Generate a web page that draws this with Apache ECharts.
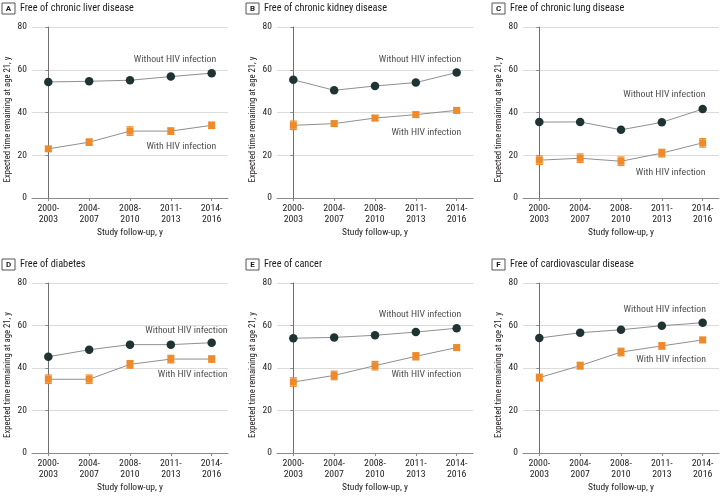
<!DOCTYPE html>
<html><head><meta charset="utf-8">
<script src="https://cdn.jsdelivr.net/npm/echarts@6/dist/echarts.min.js"></script>
<style>html,body{margin:0;padding:0;background:#fff}#c{width:720px;height:497px}</style>
</head><body><div id="c"></div>
<script>
const categories = ['2000-\n2003','2004-\n2007','2008-\n2010','2011-\n2013','2014-\n2016'];
const yTicks = [0,20,40,60,80];
const letters = ['A','B','C','D','E','F'];
const titles = ['Free of chronic liver disease','Free of chronic kidney disease','Free of chronic lung disease','Free of diabetes','Free of cancer','Free of cardiovascular disease'];
const labelWithout = 'Without HIV infection';
const labelWith = 'With HIV infection';

const withoutLiver = [54.3,54.6,55.1,56.8,58.4];
const withLiver    = [23.0,26.1,31.3,31.3,34.0];
const errLiver     = [1.0,1.5,2.0,1.5,1.5];

const withoutKidney = [55.3,50.4,52.4,54.0,58.7];
const withKidney    = [34.0,34.8,37.4,39.0,41.0];
const errKidney     = [2.0,1.2,1.2,1.2,1.2];

const withoutLung = [35.5,35.6,31.9,35.4,41.6];
const withLung    = [17.7,18.6,17.2,21.0,25.8];
const errLung     = [2.0,2.0,2.0,1.8,2.0];

const withoutDiabetes = [45.3,48.6,51.0,51.0,51.9];
const withDiabetes    = [34.7,34.7,41.7,44.2,44.2];
const errDiabetes     = [2.0,2.0,1.8,1.8,1.5];

const withoutCancer = [54.0,54.4,55.4,56.9,58.7];
const withCancer    = [33.4,36.5,41.1,45.5,49.6];
const errCancer     = [2.0,2.0,2.0,1.7,1.2];

const withoutCvd = [54.1,56.6,58.0,59.9,61.3];
const withCvd    = [35.5,41.1,47.5,50.4,53.2];
const errCvd     = [1.6,1.6,1.8,1.5,1.2];

// annotation anchor points [x (category index units), y]
const annWithout = [[4.11,65.0],[4.11,65.0],[4.07,48.2],[4.39,57.4],[4.11,65.1],[4.08,67.3]];
const annWith    = [[4.11,24.3],[4.11,30.8],[4.07,11.9],[4.39,36.9],[4.11,36.9],[4.08,43.8]];

const panels = [
  [withoutLiver, withLiver, errLiver],
  [withoutKidney, withKidney, errKidney],
  [withoutLung, withLung, errLung],
  [withoutDiabetes, withDiabetes, errDiabetes],
  [withoutCancer, withCancer, errCancer],
  [withoutCvd, withCvd, errCvd]
];

const FONT = '"Roboto Condensed","Liberation Sans",sans-serif';
const TXT = '#1e1a1b';
const lefts = [32, 277, 523];
const tops = [27, 283];
const heights = [171, 170];
const titleLefts = [2, 246, 492];
const titleTops = [3, 259];

const grids = [], xAxes = [], yAxes = [], series = [], titleArr = [];
panels.forEach((p, i) => {
  const col = i % 3, row = Math.floor(i / 3);
  grids.push({left: lefts[col], top: tops[row], width: 196, height: heights[row], containLabel: false});
  xAxes.push({
    type: 'value', gridIndex: i, min: -0.4, max: 4.4,
    name: 'Study follow-up, y', nameLocation: 'middle', nameGap: 30,
    nameTextStyle: {fontFamily: FONT, fontSize: 9.5, color: TXT},
    axisLine: {show: true, onZero: false, lineStyle: {color: '#8a8a8a', width: 1}},
    axisTick: {show: true, length: 3, customValues: [0,1,2,3,4], lineStyle: {color: '#8a8a8a'}},
    axisLabel: {customValues: [0,1,2,3,4], formatter: v => categories[Math.round(v)], fontFamily: FONT, fontSize: 9.8, color: TXT, margin: 5, lineHeight: 11},
    splitLine: {show: false}
  });
  yAxes.push({
    type: 'value', gridIndex: i, min: 0, max: 80, interval: 20,
    name: 'Expected time remaining at age 21, y', nameLocation: 'middle', nameGap: 20,
    nameTextStyle: {fontFamily: FONT, fontSize: 8.7, color: TXT, padding: [0, 14, 0, 0]},
    axisLine: {show: true, lineStyle: {color: '#6e6e6e', width: 1}},
    axisTick: {show: true, length: 3, lineStyle: {color: '#8a8a8a'}},
    axisLabel: {fontFamily: FONT, fontSize: 9.5, color: TXT, margin: 5, formatter: v => yTicks.includes(v) ? String(v) : ''},
    splitLine: {show: true, lineStyle: {color: '#dcdcdc', width: 1}}
  });
  titleArr.push({
    left: titleLefts[col], top: titleTops[row], padding: 0,
    text: '{b|' + letters[i] + '}{t|' + titles[i] + '}',
    textStyle: {fontWeight: 'normal', rich: {
      b: {fontFamily: 'Roboto', fontWeight: 'bold', fontSize: 8, color: TXT, borderColor: '#555', borderWidth: 1, padding: [2, 3, 1, 3], width: 7, align: 'center'},
      t: {fontFamily: FONT, fontWeight: 'normal', fontSize: 10.3, color: TXT, padding: [0, 0, 0, 5]}
    }}
  });
  const [wo, wi, er] = p;
  series.push({
    type: 'custom', xAxisIndex: i, yAxisIndex: i, z: 2, silent: true,
    data: wi.map((v, k) => [k, v - er[k], v + er[k]]),
    renderItem: (params, api) => {
      const lo = api.coord([api.value(0), api.value(1)]);
      const hi = api.coord([api.value(0), api.value(2)]);
      const w = 3.5;
      const st = {stroke: '#ee8a2a', lineWidth: 1.2};
      return {type: 'group', children: [
        {type: 'line', shape: {x1: lo[0], y1: lo[1], x2: hi[0], y2: hi[1]}, style: st},
        {type: 'line', shape: {x1: lo[0]-w, y1: lo[1], x2: lo[0]+w, y2: lo[1]}, style: st},
        {type: 'line', shape: {x1: hi[0]-w, y1: hi[1], x2: hi[0]+w, y2: hi[1]}, style: st}
      ]};
    }
  });
  series.push({
    type: 'line', xAxisIndex: i, yAxisIndex: i, z: 3, silent: true,
    data: wo.map((v, k) => [k, v]),
    symbol: 'circle', symbolSize: 8.5,
    lineStyle: {color: '#8f8f8f', width: 1},
    itemStyle: {color: '#1f3332'}
  });
  series.push({
    type: 'line', xAxisIndex: i, yAxisIndex: i, z: 4, silent: true,
    data: wi.map((v, k) => [k, v]),
    symbol: 'rect', symbolSize: 7,
    lineStyle: {color: '#8f8f8f', width: 1},
    itemStyle: {color: '#ee8a2a'}
  });
  series.push({
    type: 'scatter', xAxisIndex: i, yAxisIndex: i, z: 5, silent: true,
    symbolSize: 0,
    data: [
      {value: annWithout[i], label: {formatter: labelWithout}},
      {value: annWith[i], label: {formatter: labelWith}}
    ],
    label: {show: true, position: 'left', distance: 0, fontFamily: FONT, fontSize: 9.8, color: TXT}
  });
});

const chart = echarts.init(document.getElementById('c'), null, {renderer: 'canvas'});
chart.setOption({
  animation: false,
  backgroundColor: '#fff',
  title: titleArr,
  grid: grids,
  xAxis: xAxes,
  yAxis: yAxes,
  series: series
});
</script></body></html>
